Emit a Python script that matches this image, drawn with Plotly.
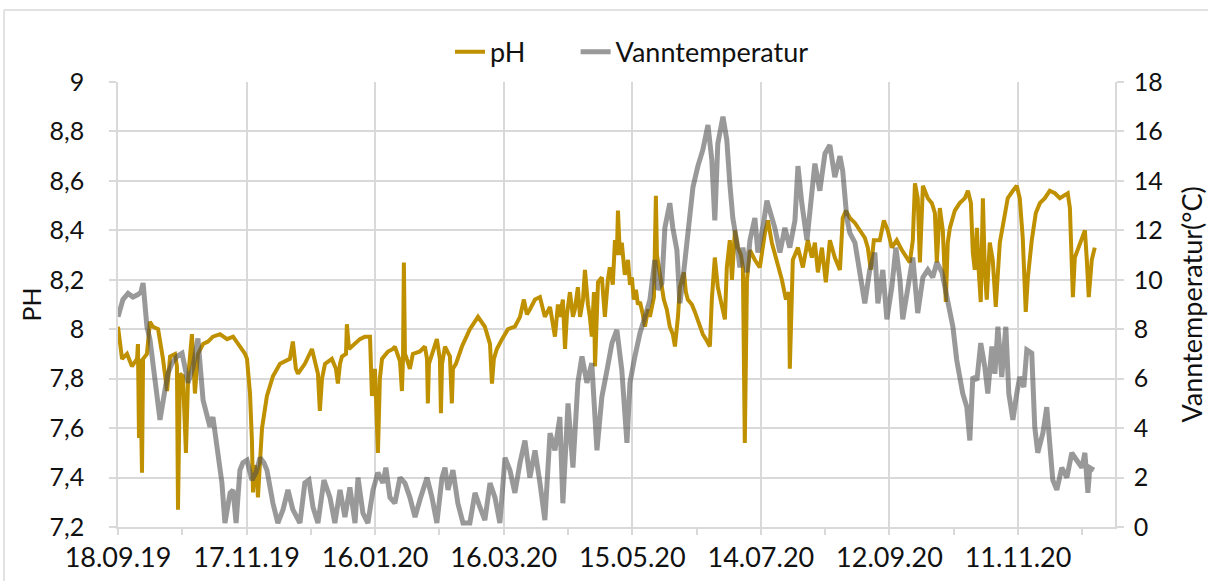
import pandas as pd
import plotly.graph_objects as go

start_date = "2019-09-18"

# pH: days after start date and value
ph_day = [0.0, 1.9, 4.2, 6.5, 8.9, 9.3, 9.8, 10.3, 11.2, 11.7, 13.5, 14.9, 16.3, 18.7, 21.0, 22.9,
          24.3, 26.6, 27.5, 28.0, 28.9, 30.3, 31.7, 32.7, 34.5, 35.9, 37.3, 39.7, 42.0, 44.3, 47.6,
          50.9, 53.7, 56.9, 59.3, 60.2, 61.6, 62.5, 63.0, 63.9, 64.9, 65.3, 66.3, 67.2, 69.5, 72.3,
          75.6, 77.9, 80.2, 81.6, 83.0, 84.0, 87.2, 90.5, 92.4, 93.3, 94.2, 95.2, 96.6, 99.8, 101.7,
          102.6, 103.6, 104.5, 106.4, 106.8, 107.8, 110.6, 112.9, 115.2, 117.6, 118.5, 119.9, 121.3,
          122.2, 123.2, 126.0, 128.3, 129.2, 131.6, 132.5, 133.0, 133.4, 133.9, 134.4, 136.2, 137.6,
          140.9, 143.2, 144.2, 144.6, 145.1, 146.5, 148.8, 150.2, 150.7, 151.2, 152.6, 154.9, 155.8,
          156.3, 157.7, 160.5, 164.2, 168.0, 171.2, 173.6, 174.5, 175.4, 176.8, 179.2, 182.0, 185.2,
          187.6, 189.4, 190.8, 192.2, 194.6, 196.9, 199.2, 201.6, 203.9, 205.3, 206.2, 207.6, 208.6,
          209.5, 210.9, 212.3, 213.2, 214.6, 215.6, 217.0, 217.9, 219.3, 220.2, 221.1, 222.1, 222.6,
          223.5, 224.0, 225.8, 227.2, 228.6, 229.5, 230.9, 231.9, 232.8, 233.3, 234.2, 235.1, 236.5,
          238.0, 238.9, 239.8, 240.7, 241.7, 242.6, 243.6, 244.9, 245.9, 247.3, 248.2, 250.1, 251.0,
          251.5, 251.9, 253.3, 254.7, 256.1, 257.5, 258.9, 259.9, 261.3, 262.2, 264.1, 265.0, 265.9,
          267.8, 269.2, 271.5, 272.9, 274.3, 276.2, 277.1, 278.5, 279.9, 281.8, 283.2, 284.1, 285.5,
          286.5, 287.9, 289.3, 290.7, 291.6, 292.5, 293.5, 294.9, 297.2, 299.5, 301.9, 303.3, 305.1,
          307.5, 309.8, 311.7, 313.1, 313.5, 314.5, 314.9, 317.3, 319.6, 321.9, 323.8, 325.2, 326.6,
          328.5, 330.3, 332.2, 334.5, 336.9, 338.2, 339.7, 341.5, 343.9, 346.2, 348.5, 349.9, 351.3,
          352.7, 355.5, 357.4, 359.2, 361.1, 363.4, 365.8, 368.1, 369.5, 370.9, 371.9, 373.2, 374.2,
          375.6, 377.9, 379.8, 381.2, 382.1, 383.5, 384.9, 385.8, 386.3, 387.2, 388.2, 390.5, 392.8,
          395.2, 396.6, 398.0, 398.9, 399.8, 400.8, 401.7, 402.6, 403.6, 404.5, 405.4, 406.8, 408.2,
          409.6, 411.5, 413.4, 415.2, 417.6, 419.4, 420.8, 422.2, 423.6, 424.6, 426.4, 428.3, 430.2,
          432.5, 434.8, 437.2, 439.5, 441.8, 443.2, 444.2, 445.6, 446.5, 447.9, 449.8, 451.2, 452.1,
          453.0, 454.4, 455.8]
ph_val = [8.01, 7.88, 7.90, 7.85, 7.88, 7.94, 7.56, 7.88, 7.42, 7.88, 7.90, 8.03, 8.01, 8.00, 7.88, 7.75,
          7.89, 7.90, 7.85, 7.27, 7.82, 7.81, 7.50, 7.80, 7.98, 7.74, 7.90, 7.94, 7.95, 7.97, 7.98,
          7.96, 7.97, 7.93, 7.90, 7.88, 7.74, 7.55, 7.34, 7.45, 7.40, 7.32, 7.50, 7.60, 7.73, 7.81,
          7.86, 7.87, 7.88, 7.95, 7.84, 7.82, 7.86, 7.92, 7.86, 7.82, 7.67, 7.80, 7.86, 7.88, 7.84,
          7.78, 7.86, 7.89, 7.90, 8.02, 7.92, 7.94, 7.96, 7.97, 7.97, 7.73, 7.84, 7.50,
          7.80, 7.88, 7.91, 7.92, 7.93, 7.87, 7.75, 7.88, 8.27, 7.90, 7.89, 7.84, 7.90,
          7.91, 7.93, 7.88, 7.70, 7.86, 7.90, 7.96, 7.88, 7.66, 7.86, 7.93, 7.89, 7.70,
          7.84, 7.86, 7.93, 8.00, 8.05, 8.01, 7.94, 7.78, 7.88, 7.92, 7.96, 8.00, 8.01,
          8.05, 8.12, 8.06, 8.08, 8.12, 8.13, 8.05, 8.09, 7.97, 8.10, 8.05, 8.12, 7.92,
          8.06, 8.15, 8.05, 8.08, 8.17, 8.05, 8.12, 8.24, 8.10, 8.05, 7.97, 8.15, 7.85,
          8.12, 8.19, 8.21, 8.05, 8.20, 8.25, 8.18, 8.36, 8.30, 8.48, 8.30, 8.35, 8.22,
          8.28, 8.18, 8.21, 8.12, 8.16, 8.10, 8.11, 8.06, 8.01, 8.08, 8.05, 8.13, 8.54,
          8.30, 8.28, 8.20, 8.12, 8.08, 8.01, 7.98, 7.93, 8.05, 8.17, 8.23, 8.15, 8.12,
          8.10, 8.07, 8.01, 7.98, 7.96, 7.93, 8.12, 8.29, 8.17, 8.09, 8.04, 8.25, 8.36,
          8.20, 8.40, 8.33, 8.30, 8.25, 7.54, 8.20, 8.32, 8.28, 8.25, 8.39, 8.44, 8.35,
          8.28, 8.20, 8.12, 8.15, 7.84, 8.20, 8.28, 8.33, 8.25, 8.36, 8.29, 8.35, 8.23,
          8.33, 8.19, 8.36, 8.29, 8.24, 8.45, 8.48, 8.45, 8.43, 8.40, 8.37, 8.33, 8.24,
          8.36, 8.36, 8.44, 8.40, 8.33, 8.36, 8.32, 8.29, 8.27, 8.36, 8.59, 8.53, 8.27,
          8.58, 8.53, 8.51, 8.47, 8.27, 8.49, 8.40, 8.23, 8.11, 8.35, 8.41, 8.48, 8.51,
          8.53, 8.56, 8.51, 8.31, 8.24, 8.41, 8.23, 8.11, 8.53, 8.24, 8.12, 8.35, 8.28,
          8.09, 8.35, 8.44, 8.53, 8.56, 8.58, 8.53, 8.37, 8.07, 8.21, 8.36, 8.47, 8.51,
          8.53, 8.56, 8.55, 8.53, 8.54, 8.55, 8.49, 8.13, 8.29, 8.32, 8.37, 8.40, 8.28,
          8.13, 8.28, 8.33]

# Vanntemperatur (°C): days after start date and value
temp_day = [0.0, 2.3, 4.7, 7.0, 9.3, 10.7, 11.7, 13.5, 14.9, 16.3, 17.7, 19.6, 21.9, 23.3, 25.2, 27.5,
            29.9, 31.3, 32.7, 35.0, 37.3, 39.7, 41.5, 42.9, 44.3, 46.2, 48.5, 49.9, 52.3, 53.7, 55.1,
            56.9, 58.3, 60.2, 62.5, 64.4, 66.3, 68.1, 69.5, 72.3, 74.6, 77.0, 79.3, 81.6, 84.9, 87.2,
            89.1, 91.0, 93.3, 96.1, 98.9, 101.2, 103.6, 105.9, 108.2, 110.6, 112.0, 114.3, 116.6,
            119.0, 121.3, 123.6, 125.0, 126.9, 129.2, 131.6, 133.9, 136.2, 138.6, 140.9, 144.2, 146.5,
            148.8, 151.2, 152.6, 154.0, 156.3, 158.6, 161.0, 164.2, 166.6, 168.9, 171.2, 173.6, 175.9,
            178.2, 180.6, 182.9, 185.2, 187.6, 189.9, 192.2, 194.6, 196.9, 199.2, 201.6, 203.9, 206.2,
            207.6, 210.0, 212.3, 214.6, 216.5, 218.8, 221.1, 223.5, 225.8, 228.2, 230.5, 232.8, 235.1,
            237.5, 238.9, 241.2, 243.6, 245.9, 248.2, 250.5, 251.9, 253.8, 255.2, 257.5, 258.9, 260.8,
            262.2, 263.6, 265.9, 268.3, 270.6, 272.9, 275.3, 277.1, 278.5, 279.9, 282.3, 284.1, 285.5,
            286.9, 288.8, 290.2, 291.6, 293.5, 294.9, 297.2, 298.6, 300.9, 302.8, 304.2, 306.5, 308.9,
            311.2, 313.5, 315.9, 317.3, 319.1, 321.5, 323.8, 325.2, 327.5, 329.9, 332.2, 334.5, 336.9,
            338.2, 340.1, 341.5, 343.9, 346.2, 348.5, 350.8, 353.2, 354.6, 356.9, 358.8, 361.1, 363.0,
            364.9, 366.2, 368.6, 370.9, 373.2, 375.6, 377.9, 380.2, 382.1, 384.5, 386.8, 388.2, 389.6,
            391.4, 392.8, 394.2, 396.1, 397.5, 398.9, 400.8, 402.6, 404.5, 405.9, 407.8, 409.2, 410.6,
            412.4, 414.3, 415.7, 417.6, 419.4, 420.8, 422.7, 424.1, 426.4, 427.8, 429.2, 431.6, 433.4,
            434.8, 436.2, 438.1, 440.4, 442.8, 445.1, 447.4, 449.8, 451.2, 452.6, 453.5, 455.4]
temp_val = [8.5, 9.2, 9.45, 9.3, 9.4, 9.5, 9.87, 8.1, 7.6, 6.5, 5.6, 4.33, 5.54, 6.2, 6.63, 6.9,
            7.03, 6.5, 5.83, 6.47, 7.63, 5.13, 4.6, 4.05, 4.45, 3.1, 1.78, 0.16, 1.38, 1.5, 0.16,
            2.3, 2.6, 2.7, 1.9, 2.2, 2.8, 2.6, 2.3, 0.96, 0.16, 0.7, 1.5, 0.7, 0.16, 1.78,
            1.9, 0.8, 0.16, 1.9, 1.2, 0.16, 1.5, 0.4, 1.6, 0.16, 2.0, 0.56, 0.16,
            1.5, 2.2, 1.78, 2.4, 1.2, 0.96, 2.0, 1.78, 1.2, 0.4, 1.1, 2.0, 1.2,
            0.16, 2.0, 2.4, 1.5, 2.3, 0.96, 0.16, 0.16, 1.38, 0.8, 0.28, 1.78, 1.2,
            0.16, 2.8, 2.3, 1.38, 2.6, 3.5, 2.0, 3.1, 1.78, 0.28, 3.8, 3.1, 4.45,
            0.96, 5.0, 2.4, 5.83, 6.9, 5.83, 6.63, 3.1, 5.26, 6.35, 7.44, 7.97, 6.35,
            3.4, 5.83, 6.9, 7.85, 8.5, 9.18, 10.8, 9.6, 9.87, 12.1, 13.1, 12.1, 11.2,
            9.05, 10.0, 11.9, 13.75, 14.6, 15.25, 16.26, 14.85, 12.4, 15.5, 16.6, 15.65, 13.9,
            12.5, 11.5, 10.5, 11.3, 10.3, 11.6, 12.5, 11.1, 12.1, 13.2, 12.8, 12.1, 11.1,
            12.1, 11.3, 12.4, 14.6, 13.1, 11.6, 13.6, 14.7, 13.6, 15.1, 15.45, 14.15, 15.0,
            14.4, 12.5, 11.9, 11.5, 10.3, 9.05, 10.4, 11.1, 9.05, 10.4, 8.4, 9.7, 11.3,
            10.0, 8.4, 9.7, 10.9, 8.65, 10.1, 10.4, 10.1, 10.7, 10.3, 9.3, 8.8, 8.1,
            6.75, 6.07, 5.4, 4.85, 3.5, 6.07, 5.94, 7.44, 6.47, 5.4, 7.3, 6.2, 8.1,
            6.07, 8.1, 5.4, 4.33, 5.4, 6.07, 5.66, 7.16, 7.03, 4.05, 3.0, 3.8, 4.85,
            3.0, 1.9, 1.5, 2.4, 2.0, 3.0, 2.7, 2.4, 3.0, 1.38, 2.4, 2.3]

x_tick_labels = ["18.09.19", "17.11.19", "16.01.20", "16.03.20", "15.05.20",
                 "14.07.20", "12.09.20", "11.11.20"]
ph_ticks = [7.2, 7.4, 7.6, 7.8, 8.0, 8.2, 8.4, 8.6, 8.8, 9.0]
ph_tick_labels = ["7,2", "7,4", "7,6", "7,8", "8", "8,2", "8,4", "8,6", "8,8", "9"]
x_end = "2020-12-26 06:00"

base = pd.Timestamp(start_date)
ph_x = base + pd.to_timedelta(ph_day, unit="D")
temp_x = base + pd.to_timedelta(temp_day, unit="D")
x_tick_vals = [base + pd.Timedelta(days=60 * i) for i in range(len(x_tick_labels))]

FONT = "Lato"
FS = 27
FS_Y = 25
GRID = "#d9d9d9"
TXT = "#111111"

fig = go.Figure()
fig.add_trace(go.Scatter(x=ph_x, y=ph_val, name="pH", mode="lines", legend="legend",
                         line=dict(color="#BF9000", width=4)))
fig.add_trace(go.Scatter(x=temp_x, y=temp_val, name="Vanntemperatur", mode="lines",
                         yaxis="y2", legend="legend2",
                         line=dict(color="rgba(80,80,80,0.58)", width=5)))

legend_common = dict(orientation="h", y=1.067, yanchor="middle", xanchor="left",
                     font=dict(family=FONT, size=FS, color=TXT), bgcolor="rgba(0,0,0,0)",
                     borderwidth=0)

fig.update_layout(
    width=1208, height=581,
    margin=dict(l=118, r=93, t=82, b=54, autoexpand=False),
    paper_bgcolor="white", plot_bgcolor="white",
    font=dict(family=FONT, size=FS, color=TXT),
    showlegend=True,
    legend=dict(x=0.333, **legend_common),
    legend2=dict(x=0.459, **legend_common),
    xaxis=dict(
        type="date", range=[start_date, x_end],
        tickmode="array", tickvals=x_tick_vals, ticktext=x_tick_labels,
        showgrid=True, gridcolor=GRID, gridwidth=1.5,
        showline=True, linecolor=GRID, linewidth=1.5,
        ticks="outside", ticklen=6, tickcolor=GRID, tickwidth=1.5,
        ticklabelstandoff=0,
        minor=dict(ticks="outside", ticklen=6, tickcolor=GRID, tickwidth=1.5,
                   dtick=30 * 86400000, tick0=start_date, showgrid=False),
        zeroline=False, automargin=False,
        tickfont=dict(family=FONT, size=FS, color=TXT),
    ),
    yaxis=dict(
        range=[7.2, 9.0], tickmode="array", tickvals=ph_ticks, ticktext=ph_tick_labels,
        showgrid=True, gridcolor=GRID, gridwidth=1.5,
        showline=True, linecolor=GRID, linewidth=1.5,
        ticks="outside", ticklen=7, tickcolor=GRID, tickwidth=1.5,
        ticklabelstandoff=20, zeroline=False, automargin=False,
        tickfont=dict(family=FONT, size=FS_Y, color=TXT),
    ),
    yaxis2=dict(
        range=[0, 18], dtick=2, tick0=0, overlaying="y", side="right",
        showgrid=False, showline=True, linecolor=GRID, linewidth=1.5,
        ticks="outside", ticklen=7, tickcolor=GRID, tickwidth=1.5,
        ticklabelstandoff=5, zeroline=False, automargin=False,
        tickfont=dict(family=FONT, size=FS_Y, color=TXT),
    ),
    annotations=[
        dict(text="PH", xref="paper", yref="paper", x=-0.0873, y=0.5, textangle=-90,
             showarrow=False, xanchor="center", yanchor="middle",
             font=dict(family=FONT, size=FS_Y, color=TXT)),
        dict(text="Vanntemperatur(°C)", xref="paper", yref="paper", x=1.0772, y=0.5,
             textangle=-90, showarrow=False, xanchor="center", yanchor="middle",
             font=dict(family=FONT, size=FS, color=TXT)),
    ],
    shapes=[
        dict(type="line", xref="paper", yref="paper", x0=-0.1143, x1=1.1, y0=1.1618, y1=1.1618,
             line=dict(color=GRID, width=1.5)),
        dict(type="line", xref="paper", yref="paper", x0=-0.1143, x1=-0.1143, y0=-0.13, y1=1.1618,
             line=dict(color=GRID, width=1.5)),
    ],
)

fig.write_html("out.html", config={"displayModeBar": False},
               post_script="document.body.style.margin='0';document.body.style.overflow='hidden';")
